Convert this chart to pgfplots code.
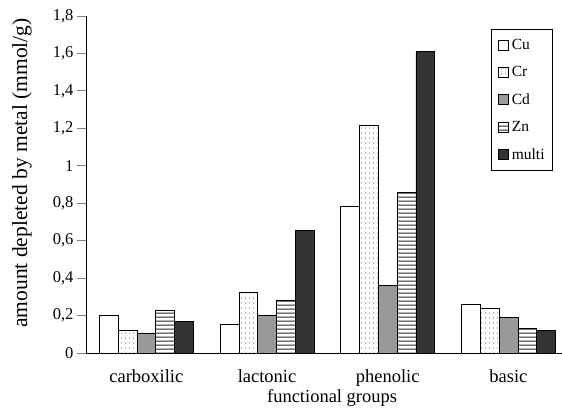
\documentclass[border=0pt]{standalone}
\usepackage{fontspec}
\setmainfont{Liberation Serif}
\usepackage{pgfplots}
\pgfplotsset{compat=1.18}
\usetikzlibrary{patterns.meta}

\tikzdeclarepattern{
  name=sparsedots,
  bounding box={(0,0) and (4pt,4.5pt)},
  tile size={(4pt,4.5pt)},
  code={\fill (2pt,2.25pt) circle (0.6pt);}
}
\tikzdeclarepattern{
  name=hbars,
  bounding box={(0,0) and (40pt,4.2pt)},
  tile size={(40pt,4.2pt)},
  code={\fill (-1pt,1.5pt) rectangle (41pt,2.8pt);}
}

% functional group index 0..3: carboxilic, lactonic, phenolic, basic
\pgfplotstableread{
x  cu    cr    cd    zn    multi
0  0.203 0.119 0.107 0.226 0.169
1  0.153 0.322 0.203 0.279 0.653
2  0.783 1.218 0.361 0.859 1.610
3  0.260 0.238 0.189 0.133 0.119
}\groups

\begin{document}
\begin{tikzpicture}
\begin{axis}[
    at={(0,0)}, anchor=south west,
    scale only axis,
    width=476pt, height=337pt,
    ybar=0pt,
    bar width=18.8pt,
    axis lines*=left,
    axis line style={line width=0.8pt},
    xmin=-0.5, xmax=3.444,
    ymin=0, ymax=1.8,
    ytick={0,0.2,...,1.8},
    xtick={0,1,2,3},
    xticklabels={carboxilic,lactonic,phenolic,basic},
    xtick style={draw=none},
    extra x ticks={-0.5,0.5,1.5,2.5},
    extra x tick labels={},
    extra x tick style={major tick length=7pt, tick style={draw=black, line width=0.8pt}},
    ytick style={line width=0.8pt},
    tick align=outside,
    major tick length=9pt,
    /pgf/number format/.cd, use comma, fixed, precision=1, assume math mode=true,
    /pgfplots/.cd,
    yticklabel style={font=\fontsize{16.5}{19}\selectfont},
    xticklabel style={font=\fontsize{18.5}{21}\selectfont, anchor=base, yshift=-20.7pt},
    ylabel={amount depleted by metal (mmol/g)},
    ylabel style={font=\fontsize{21.5}{24}\selectfont, at={(axis description cs:-0.1345,0.534)}, anchor=center},
    xlabel={functional groups},
    xlabel style={font=\fontsize{18.5}{21}\selectfont, at={(axis description cs:0.517,0)}, anchor=base, yshift=-50pt},
    legend style={at={(axis description cs:0.981,0.961)}, anchor=north east,
        font=\fontsize{15.5}{18}\selectfont, draw=black, line width=0.8pt,
        row sep=11.5pt, column sep=1.5pt, inner xsep=6pt, inner ysep=7.5pt},
    legend cell align=left,
    legend image code/.code={\draw[#1, line width=0.6pt] (0pt,-5pt) rectangle (10pt,5pt);},
]
\addplot[draw=black, line width=0.6pt, fill=white] table[x=x, y=cu] {\groups};
\addplot[draw=black, line width=0.6pt, pattern=sparsedots, pattern color=black!75] table[x=x, y=cr] {\groups};
\addplot[draw=black, line width=0.6pt, fill=black!40] table[x=x, y=cd] {\groups};
\addplot[draw=black, line width=0.6pt, pattern=hbars, pattern color=black!85] table[x=x, y=zn] {\groups};
\addplot[draw=black, line width=0.6pt, fill=black!80] table[x=x, y=multi] {\groups};
\legend{Cu,Cr,Cd,Zn,multi}
\end{axis}
\pgfresetboundingbox
\useasboundingbox (-86pt,-56pt) rectangle (476pt,353pt);
\end{tikzpicture}
\end{document}
